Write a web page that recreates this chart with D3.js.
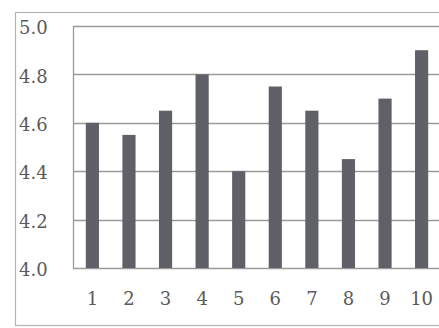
<!DOCTYPE html>
<html>
<head>
<meta charset="utf-8">
<script src="https://cdn.jsdelivr.net/npm/d3@7"></script>
<style>
  html, body { margin: 0; padding: 0; background: #fff; }
  svg { display: block; }
</style>
</head>
<body>
<svg id="chart" width="439" height="328"></svg>
<script>
// Category labels, values and y-axis ticks
const categories = ["1", "2", "3", "4", "5", "6", "7", "8", "9", "10"];
const values = [4.6, 4.55, 4.65, 4.8, 4.4, 4.75, 4.65, 4.45, 4.7, 4.9];
const yTicks = [4.0, 4.2, 4.4, 4.6, 4.8, 5.0];

const svg = d3.select("#chart");
const W = 439, H = 328;
const plot = { left: 73, top: 26, right: 441, bottom: 268 };
const font = "DejaVu Serif, Liberation Serif, serif";

// Outer frame
svg.append("rect")
  .attr("x", 15.5).attr("y", 12.5)
  .attr("width", W).attr("height", 313)
  .attr("fill", "none").attr("stroke", "#b4b4b4").attr("stroke-width", 1.2);

const x = d3.scaleBand()
  .domain(categories)
  .range([plot.left, plot.right])
  .paddingInner(0.64)
  .paddingOuter(0.35);

const y = d3.scaleLinear()
  .domain([4.0, 5.0])
  .range([plot.bottom, plot.top]);

// Horizontal gridlines
svg.append("g")
  .selectAll("line")
  .data(yTicks)
  .join("line")
  .attr("x1", plot.left).attr("x2", plot.right)
  .attr("y1", d => Math.round(y(d)) + 0.5).attr("y2", d => Math.round(y(d)) + 0.5)
  .attr("stroke", "#9a9a9a").attr("stroke-width", 1.3);

// Plot area left edge
svg.append("line")
  .attr("x1", plot.left + 0.5).attr("x2", plot.left + 0.5)
  .attr("y1", plot.top).attr("y2", plot.bottom)
  .attr("stroke", "#9a9a9a").attr("stroke-width", 1.3);

// Bars
svg.append("g")
  .selectAll("rect")
  .data(values)
  .join("rect")
  .attr("x", (d, i) => x(categories[i]))
  .attr("width", x.bandwidth())
  .attr("y", d => y(d))
  .attr("height", d => y(4.0) - y(d))
  .attr("fill", "#606069");

// Y-axis labels
const yAxis = d3.axisLeft(y).tickValues(yTicks).tickFormat(d3.format(".1f")).tickSize(0).tickPadding(0);
const gy = svg.append("g").attr("transform", "translate(19,2)").call(yAxis);
gy.attr("font-family", font).attr("font-size", 18);
gy.select(".domain").remove();
gy.selectAll("text")
  .attr("text-anchor", "start")
  .attr("x", 0)
  .attr("fill", "#5a5a5a");

// X-axis labels
const xAxis = d3.axisBottom(x).tickSize(0).tickPadding(0);
const gx = svg.append("g").attr("transform", "translate(0,292)").call(xAxis);
gx.attr("font-family", font).attr("font-size", 18);
gx.select(".domain").remove();
gx.selectAll("text")
  .attr("dy", "0.71em")
  .attr("fill", "#5a5a5a");
</script>
</body>
</html>
